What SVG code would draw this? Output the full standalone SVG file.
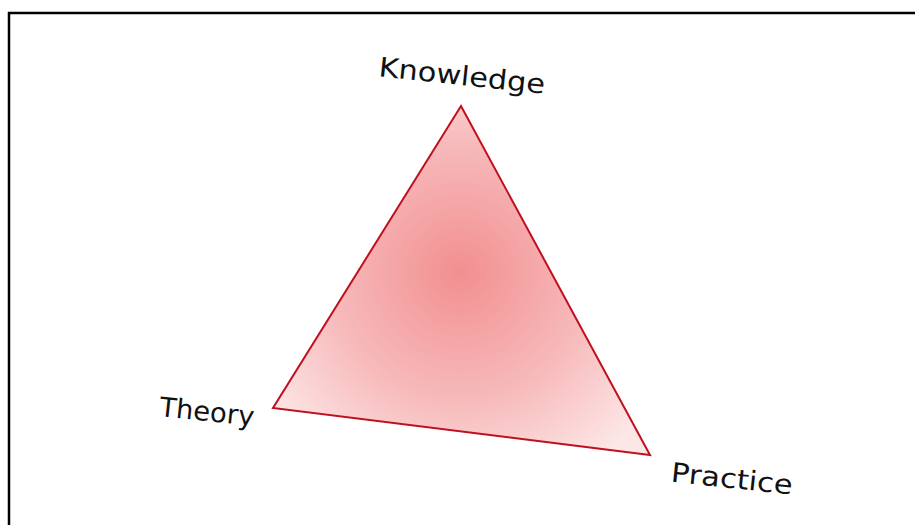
<svg xmlns="http://www.w3.org/2000/svg" width="915" height="525" viewBox="0 0 915 525">
<defs>
<radialGradient id="g" gradientUnits="userSpaceOnUse" cx="460" cy="272" r="230">
<stop offset="0" stop-color="#f28f90"/>
<stop offset="0.55" stop-color="#f7b9ba"/>
<stop offset="1" stop-color="#fde6e6"/>
</radialGradient>
<style>
.lbl{font-family:"DejaVu Sans","Liberation Sans",sans-serif;font-size:27px;fill:#111;text-anchor:middle}
</style>
</defs>
<rect x="0" y="0" width="915" height="525" fill="#fff"/>
<path d="M9 525 V13 H915" fill="none" stroke="#000" stroke-width="2.5"/>
<g id="triangle">
<polygon points="461,106 273,408 650,455" fill="url(#g)" stroke="#c0101e" stroke-width="2" stroke-linejoin="miter"/>
</g>
<g id="knowledge"><text class="lbl" x="461" y="85" textLength="167" lengthAdjust="spacingAndGlyphs" transform="rotate(6 461 85)">Knowledge</text></g>
<g id="theory"><text class="lbl" x="206" y="421" textLength="95" lengthAdjust="spacingAndGlyphs" transform="rotate(6 206 421)">Theory</text></g>
<g id="practice"><text class="lbl" x="731" y="488" textLength="122" lengthAdjust="spacingAndGlyphs" transform="rotate(6 731 488)">Practice</text></g>
<g id="connectors"/>
</svg>
